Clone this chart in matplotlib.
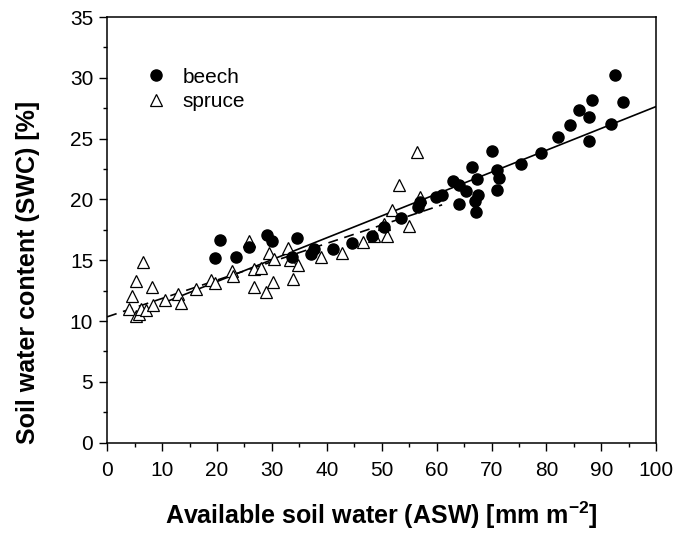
import matplotlib
matplotlib.use('Agg')
import matplotlib.pyplot as plt
import numpy as np
from matplotlib.ticker import MultipleLocator

plt.rcParams['font.family'] = ['Liberation Sans', 'DejaVu Sans']
plt.rcParams['mathtext.fontset'] = 'custom'
plt.rcParams['mathtext.bf'] = 'Liberation Sans:bold'
plt.rcParams['mathtext.rm'] = 'Liberation Sans'

# beech plots
beech_asw = [19.6, 20.5, 23.5, 25.9, 29.1, 30.1, 34.5, 33.7, 37.2, 37.6, 41.2, 44.6,
             48.2, 50.4, 53.6, 56.6, 56.9, 59.8, 61.0, 62.9, 64.0, 64.0, 65.3, 66.4,
             67.3, 67.5, 66.9, 67.1, 70.1, 71.0, 71.3, 71.0, 75.4, 79.0, 82.1, 84.2,
             86.0, 87.7, 88.3, 87.7, 91.8, 92.4, 93.9]
beech_swc = [15.2, 16.7, 15.3, 16.1, 17.1, 16.6, 16.8, 15.3, 15.5, 15.9, 15.9, 16.4,
             17.0, 17.7, 18.5, 19.4, 19.8, 20.2, 20.4, 21.5, 21.2, 19.6, 20.7, 22.7,
             21.7, 20.4, 19.9, 19.0, 24.0, 22.4, 21.8, 20.8, 22.9, 23.8, 25.1, 26.1,
             27.4, 26.8, 28.2, 24.8, 26.2, 30.2, 28.0]

# spruce plots
spruce_asw = [4.0, 4.5, 5.3, 5.2, 5.8, 6.2, 6.6, 7.0, 8.1, 8.4, 10.6, 12.9, 13.5, 16.2,
              19.0, 19.7, 22.7, 23.0, 25.8, 26.7, 28.1, 26.7, 28.9, 29.4, 30.3, 30.2,
              33.0, 33.3, 34.7, 33.9, 38.9, 42.8, 46.6, 48.6, 51.0, 50.4, 51.9, 53.2,
              55.0, 56.5, 57.0]
spruce_swc = [11.0, 12.1, 13.3, 10.4, 10.6, 11.0, 14.9, 10.9, 12.8, 11.3, 11.7, 12.2,
              11.5, 12.6, 13.4, 13.1, 14.1, 13.7, 16.6, 14.3, 14.4, 12.8, 12.4, 15.6,
              15.1, 13.2, 16.0, 15.0, 14.6, 13.5, 15.3, 15.6, 16.5, 17.0, 17.0, 18.0,
              19.1, 21.2, 17.8, 23.9, 20.2]

# linear fits: intercept, slope, x range
beech_fit = [9.65, 0.18, 10, 100]
spruce_fit = [10.35, 0.151, 0, 61]

fig = plt.figure(figsize=(6.78, 5.34), dpi=100)
ax = fig.add_axes([0.158, 0.171, 0.81, 0.797])

xb = np.array(beech_fit[2:])
ax.plot(xb, beech_fit[0] + beech_fit[1] * xb, color='black', lw=1.2, zorder=1)
xs = np.array(spruce_fit[2:])
ax.plot(xs, spruce_fit[0] + spruce_fit[1] * xs, color='black', lw=1.2,
        dashes=(6, 4), zorder=1)

ax.plot(beech_asw, beech_swc, 'o', color='black', ms=8, ls='none',
        label='beech', zorder=3)
ax.plot(spruce_asw, spruce_swc, '^', mfc='white', mec='black', mew=0.9, ms=9,
        ls='none', label='spruce', zorder=2)

ax.set_xlim(0, 100)
ax.set_ylim(0, 35)
ax.xaxis.set_major_locator(MultipleLocator(10))
ax.xaxis.set_minor_locator(MultipleLocator(5))
ax.yaxis.set_major_locator(MultipleLocator(5))
ax.yaxis.set_minor_locator(MultipleLocator(2.5))
ax.tick_params(which='both', direction='out', top=False, right=False,
               labelsize=15, width=1)
ax.tick_params(which='major', length=6)
ax.tick_params(which='minor', length=3)
ax.tick_params(axis='x', which='major', pad=7)
ax.tick_params(axis='y', which='major', pad=4)
for s in ax.spines.values():
    s.set_linewidth(1.1)

ax.set_xlabel(r'Available soil water (ASW) [mm m$^{\mathbf{-2}}$]',
              fontsize=18, fontweight='bold', labelpad=14)
ax.set_ylabel('Soil water content (SWC) [%]', fontsize=18, fontweight='bold')
ax.yaxis.set_label_coords(-0.122, 0.40)

ax.legend(loc='upper left', bbox_to_anchor=(0.035, 0.925), frameon=False,
          fontsize=15, handletextpad=0.8, labelspacing=0.25, handlelength=1)

fig.savefig('out.png', dpi=100)
